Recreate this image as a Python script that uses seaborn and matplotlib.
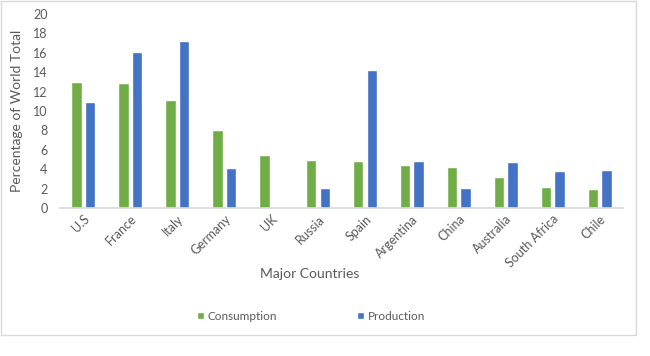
import pandas as pd
import seaborn as sns
import matplotlib.pyplot as plt
from matplotlib.patches import Rectangle

countries = ['U.S', 'France', 'Italy', 'Germany', 'UK', 'Russia', 'Spain',
             'Argentina', 'China', 'Australia', 'South Africa', 'Chile']
consumption = [13.0, 12.9, 11.1, 8.0, 5.5, 4.95, 4.85, 4.4, 4.2, 3.2, 2.2, 1.95]
production = [10.9, 16.1, 17.2, 4.1, 0, 2.05, 14.2, 4.85, 2.05, 4.75, 3.8, 3.9]

df = pd.DataFrame({'Country': countries * 2,
                   'Value': consumption + production,
                   'Series': ['Consumption'] * 12 + ['Production'] * 12})

sns.set_theme(style='white')
plt.rcParams['font.family'] = ['Lato', 'DejaVu Sans']
grey = '#595959'

fig = plt.figure(figsize=(6.5, 3.56), dpi=100)
ax = fig.add_axes([60 / 650, 1 - 208 / 356, 563 / 650, 194 / 356])

sns.barplot(data=df, x='Country', y='Value', hue='Series', ax=ax,
            palette=['#70AD47', '#4472C4'], width=0.58, gap=0.23,
            saturation=1, legend=True)

ax.set_ylim(0, 20)
ax.set_yticks(range(0, 21, 2))
ax.set_xlim(-0.5, 11.5)
for s in ['top', 'right', 'left']:
    ax.spines[s].set_visible(False)
ax.spines['bottom'].set_color('#D9D9D9')
ax.tick_params(axis='both', length=0, colors=grey, labelsize=9)
ax.tick_params(axis='y', pad=9)
plt.setp(ax.get_xticklabels(), rotation=45, ha='right', rotation_mode='anchor')
ax.set_ylabel('Percentage of World Total', color=grey, fontsize=10)
ax.set_xlabel('Major Countries', color=grey, fontsize=10)
ax.yaxis.set_label_coords(-37 / 563, 0.5)
ax.xaxis.set_label_coords(0.443, -60 / 194)

ax.legend(loc='center', bbox_to_anchor=(311 / 650, 1 - 316 / 356),
          bbox_transform=fig.transFigure, ncol=2, frameon=False,
          fontsize=8.5, handlelength=0.6, handleheight=0.6, handletextpad=0.3,
          columnspacing=6.8, labelcolor=grey)

fig.patches.append(Rectangle((1 / 650, 1 - 335 / 356), 635 / 650, 334 / 356,
                             transform=fig.transFigure, fill=False,
                             edgecolor='#D9D9D9', lw=1))

fig.savefig('out.png', dpi=100, facecolor='white')
